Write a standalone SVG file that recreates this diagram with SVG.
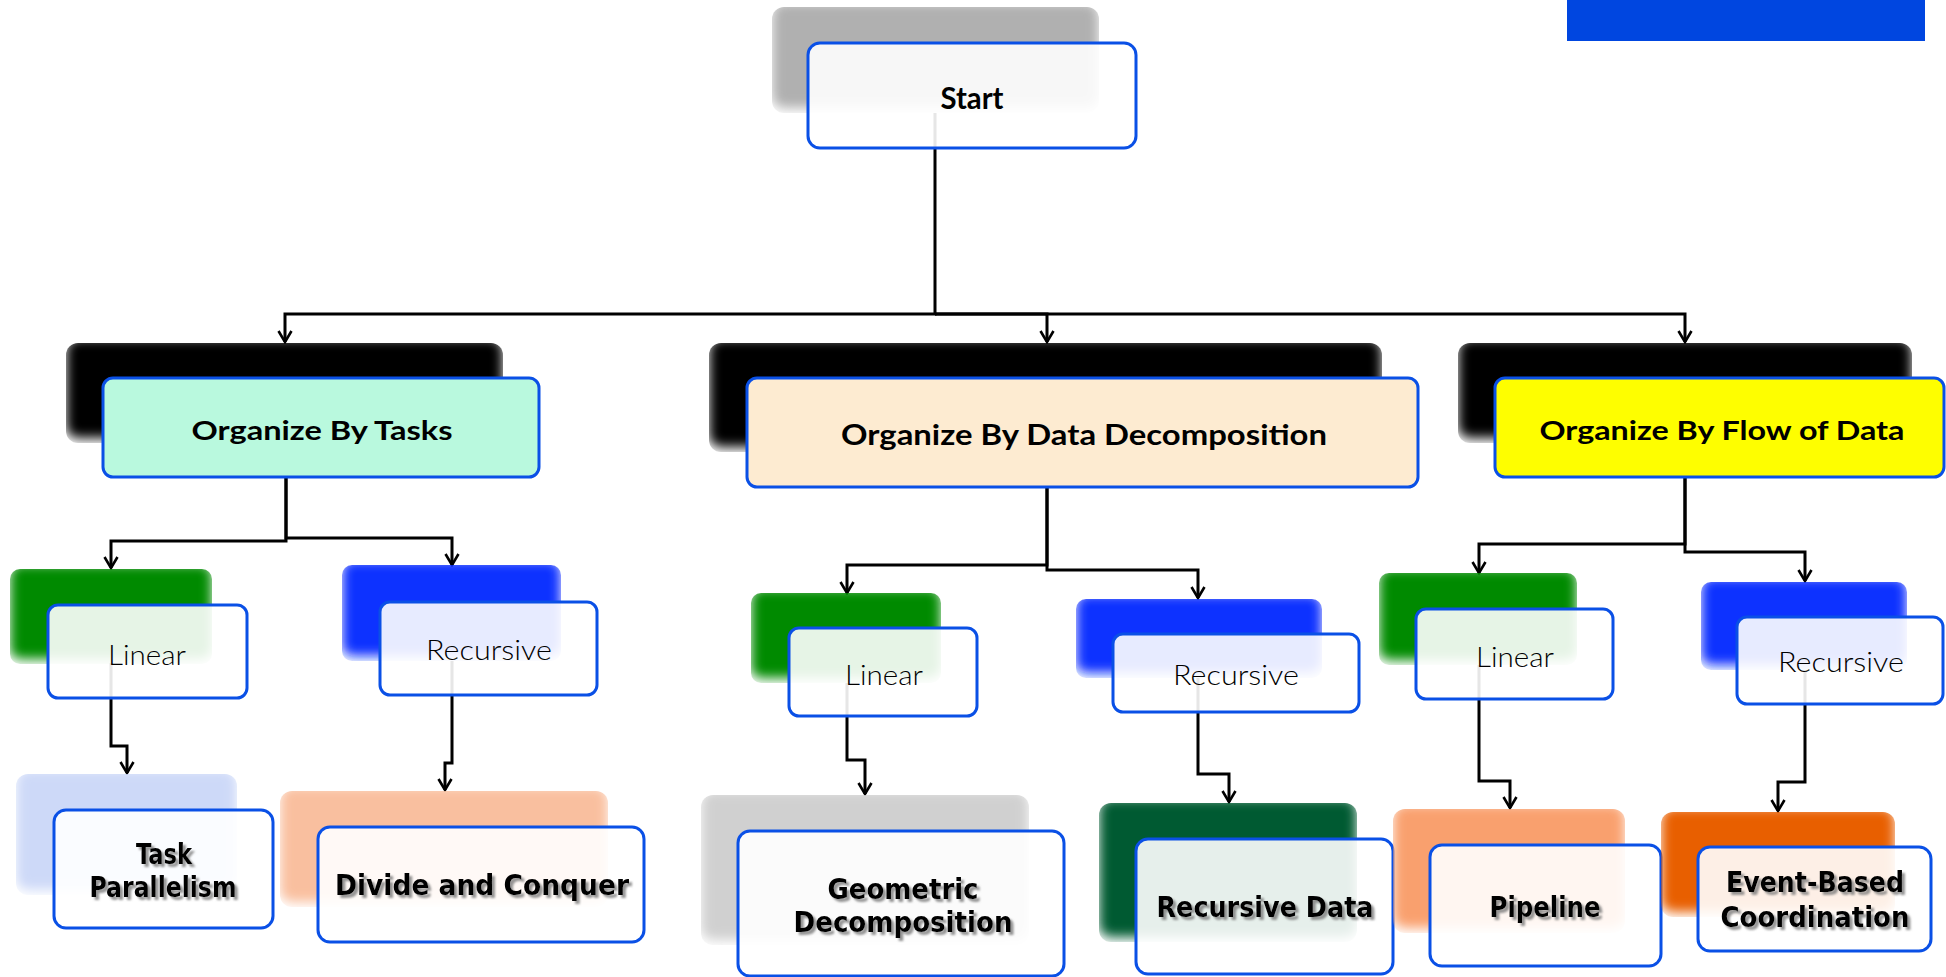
<svg xmlns="http://www.w3.org/2000/svg" width="1946" height="977" viewBox="0 0 1946 977">
  <defs>
    <!-- soft-edged backing plates: blurred copy clipped to the original shape, pulled up so the top edge stays firm -->
    <filter id="soft" x="-5%" y="-10%" width="110%" height="120%">
      <feGaussianBlur in="SourceGraphic" stdDeviation="6" result="b"/>
      <feOffset in="b" dy="-5" result="o"/>
      <feComposite in="o" in2="SourceGraphic" operator="in"/>
    </filter>
    <filter id="txtShadow" x="-10%" y="-30%" width="120%" height="160%">
      <feDropShadow dx="3" dy="3" stdDeviation="1.2" flood-color="#7a7a7a" flood-opacity="0.8"/>
    </filter>
    <marker id="arrow" viewBox="-2 -8 14 16" refX="10" refY="0" markerWidth="14" markerHeight="16" orient="auto" markerUnits="userSpaceOnUse">
      <path d="M-1,-6.5 L10,0 L-1,6.5" fill="none" stroke="#000" stroke-width="2.6"/>
    </marker>
    <style>
      .plate { filter: url(#soft); }
      .card { fill: #ffffff; fill-opacity: 0.9; stroke: #0a50e6; stroke-width: 3; }
      .head { stroke: #0a50e6; stroke-width: 3; }
      .link { fill: none; stroke: #000; stroke-width: 3; marker-end: url(#arrow); }
      .t-head { font-family: "Lato", "Open Sans", sans-serif; font-weight: 700; fill: #000; text-anchor: middle; }
      .t-kind { font-family: "Lato", "Open Sans", sans-serif; font-weight: 300; font-size: 27px; fill: #000; text-anchor: middle; }
      .t-leaf { font-family: "Liberation Sans Narrow", "DejaVu Sans", sans-serif; font-stretch: condensed; font-weight: 700; font-size: 28px; fill: #000; text-anchor: middle; filter: url(#txtShadow); }
    </style>
  </defs>

  <rect x="0" y="0" width="1946" height="977" fill="#ffffff"/>

  <!-- top-right banner -->
  <rect id="banner" x="1567" y="0" width="358" height="41" fill="#0046e0"/>

  <!-- connectors -->
  <g id="connectors">
    <path class="link" d="M935,113 V314 H285 V342"/>
    <path class="link" d="M935,314 H1047 V342"/>
    <path class="link" d="M935,314 H1685 V342"/>

    <path class="link" d="M286,477 V541 H111 V568"/>
    <path class="link" d="M286,477 V538 H452 V565"/>
    <path class="link" d="M111,663 V746 H127 V773"/>
    <path class="link" d="M452,661 V763 H445 V790"/>

    <path class="link" d="M1047,487 V565 H847 V593"/>
    <path class="link" d="M1047,487 V570 H1198 V598"/>
    <path class="link" d="M847,683 V760 H865 V794"/>
    <path class="link" d="M1198,678 V774 H1229 V802"/>

    <path class="link" d="M1685,477 V544 H1479 V573"/>
    <path class="link" d="M1685,477 V552 H1805 V581"/>
    <path class="link" d="M1479,665 V781 H1510 V808"/>
    <path class="link" d="M1805,670 V782 H1778 V811"/>
  </g>

  <!-- root -->
  <g id="start">
    <rect class="plate" x="772" y="7" width="327" height="106" rx="12" fill="#b0b0b0"/>
    <rect class="card" x="808" y="43" width="328" height="105" rx="12"/>
    <text class="t-head" x="972" y="109" font-size="30" textLength="63" lengthAdjust="spacingAndGlyphs">Start</text>
  </g>

  <!-- first level -->
  <g id="by-tasks">
    <rect class="plate" x="66" y="343" width="437" height="100" rx="12" fill="#000"/>
    <rect class="head" x="103" y="378" width="436" height="99" rx="10" fill="#b9f9de"/>
    <text class="t-head" x="322" y="440" font-size="27" textLength="261" lengthAdjust="spacingAndGlyphs">Organize By Tasks</text>
  </g>

  <g id="by-data">
    <rect class="plate" x="709" y="343" width="673" height="109" rx="12" fill="#000"/>
    <rect class="head" x="747" y="378" width="671" height="109" rx="10" fill="#fdebd1"/>
    <text class="t-head" x="1084" y="445" font-size="28" textLength="486" lengthAdjust="spacingAndGlyphs">Organize By Data Decomposition</text>
  </g>

  <g id="by-flow">
    <rect class="plate" x="1458" y="343" width="454" height="100" rx="12" fill="#000"/>
    <rect class="head" x="1495" y="378" width="449" height="99" rx="10" fill="#fefe00"/>
    <text class="t-head" x="1722" y="440" font-size="27" textLength="365" lengthAdjust="spacingAndGlyphs">Organize By Flow of Data</text>
  </g>

  <!-- second level -->
  <g id="tasks-linear">
    <rect class="plate" x="10" y="569" width="202" height="95" rx="10" fill="#008a00"/>
    <rect class="card" x="48" y="605" width="199" height="93" rx="10"/>
    <text class="t-kind" x="147" y="665" textLength="78" lengthAdjust="spacingAndGlyphs">Linear</text>
  </g>

  <g id="tasks-recursive">
    <rect class="plate" x="342" y="565" width="219" height="96" rx="10" fill="#0a32ff"/>
    <rect class="card" x="380" y="602" width="217" height="93" rx="10"/>
    <text class="t-kind" x="489" y="660" textLength="126" lengthAdjust="spacingAndGlyphs">Recursive</text>
  </g>

  <g id="data-linear">
    <rect class="plate" x="751" y="593" width="190" height="90" rx="10" fill="#008a00"/>
    <rect class="card" x="789" y="628" width="188" height="88" rx="10"/>
    <text class="t-kind" x="884" y="685" textLength="78" lengthAdjust="spacingAndGlyphs">Linear</text>
  </g>

  <g id="data-recursive">
    <rect class="plate" x="1076" y="599" width="246" height="79" rx="10" fill="#0a32ff"/>
    <rect class="card" x="1113" y="634" width="246" height="78" rx="10"/>
    <text class="t-kind" x="1236" y="685" textLength="126" lengthAdjust="spacingAndGlyphs">Recursive</text>
  </g>

  <g id="flow-linear">
    <rect class="plate" x="1379" y="573" width="198" height="92" rx="10" fill="#008a00"/>
    <rect class="card" x="1416" y="609" width="197" height="90" rx="10"/>
    <text class="t-kind" x="1515" y="667" textLength="78" lengthAdjust="spacingAndGlyphs">Linear</text>
  </g>

  <g id="flow-recursive">
    <rect class="plate" x="1701" y="582" width="206" height="88" rx="10" fill="#0a32ff"/>
    <rect class="card" x="1737" y="617" width="206" height="87" rx="10"/>
    <text class="t-kind" x="1841" y="672" textLength="126" lengthAdjust="spacingAndGlyphs">Recursive</text>
  </g>

  <!-- patterns -->
  <g id="task-parallelism">
    <rect class="plate" x="16" y="774" width="221" height="121" rx="12" fill="#cdd9f8"/>
    <rect class="card" x="54" y="810" width="219" height="118" rx="12"/>
    <text class="t-leaf" x="164" y="864" textLength="56" lengthAdjust="spacingAndGlyphs">Task</text>
    <text class="t-leaf" x="163" y="897" textLength="147" lengthAdjust="spacingAndGlyphs">Parallelism</text>
  </g>

  <g id="divide-conquer">
    <rect class="plate" x="280" y="791" width="328" height="116" rx="12" fill="#f9bf9f"/>
    <rect class="card" x="318" y="827" width="326" height="115" rx="12"/>
    <text class="t-leaf" x="482" y="895" textLength="294" lengthAdjust="spacingAndGlyphs">Divide and Conquer</text>
  </g>

  <g id="geometric-decomposition">
    <rect class="plate" x="701" y="795" width="328" height="150" rx="12" fill="#d0d0d0"/>
    <rect class="card" x="738" y="831" width="326" height="145" rx="12"/>
    <text class="t-leaf" x="903" y="899" textLength="151" lengthAdjust="spacingAndGlyphs">Geometric</text>
    <text class="t-leaf" x="903" y="932" textLength="219" lengthAdjust="spacingAndGlyphs">Decomposition</text>
  </g>

  <g id="recursive-data">
    <rect class="plate" x="1099" y="803" width="258" height="139" rx="12" fill="#005a32"/>
    <rect class="card" x="1136" y="839" width="257" height="135" rx="12"/>
    <text class="t-leaf" x="1265" y="917" textLength="217" lengthAdjust="spacingAndGlyphs">Recursive Data</text>
  </g>

  <g id="pipeline">
    <rect class="plate" x="1393" y="809" width="232" height="124" rx="12" fill="#f9a06e"/>
    <rect class="card" x="1430" y="845" width="231" height="121" rx="12"/>
    <text class="t-leaf" x="1545" y="917" textLength="111" lengthAdjust="spacingAndGlyphs">Pipeline</text>
  </g>

  <g id="event-based-coordination">
    <rect class="plate" x="1661" y="812" width="234" height="105" rx="12" fill="#e85f00"/>
    <rect class="card" x="1698" y="847" width="233" height="104" rx="12"/>
    <text class="t-leaf" x="1815" y="892" textLength="178" lengthAdjust="spacingAndGlyphs">Event-Based</text>
    <text class="t-leaf" x="1815" y="927" textLength="189" lengthAdjust="spacingAndGlyphs">Coordination</text>
  </g>
</svg>
